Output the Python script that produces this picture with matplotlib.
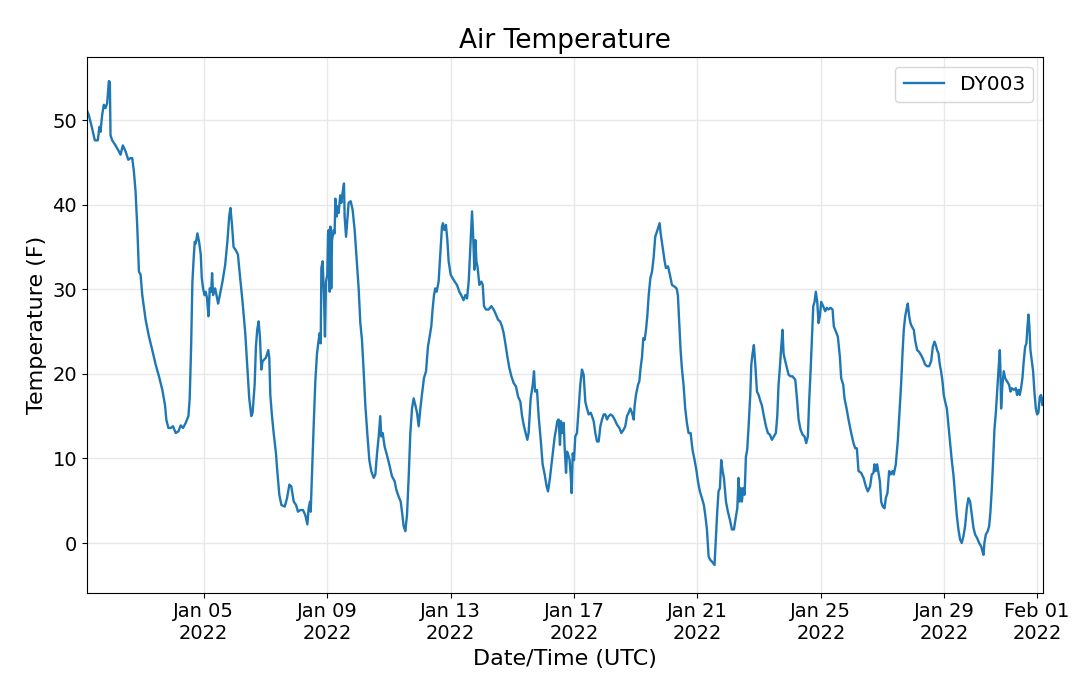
import matplotlib
matplotlib.use("Agg")
import matplotlib.pyplot as plt
import matplotlib.dates as mdates
import pandas as pd

title = "Air Temperature"
series_name = "DY003"
x_label = "Date/Time (UTC)"
y_label = "Temperature (F)"
start = pd.Timestamp("2022-01-01 00:00")
x_range_hours = [5, 749]
y_ticks = [0, 10, 20, 30, 40, 50]

# hours since 2022-01-01 00:00 UTC
hours = [
    5, 6.6, 9.2, 11.3, 13.6, 14.9, 15.7, 17, 18.3, 19.6, 20.9, 22.2, 23, 23.5, 24.8, 27.4, 30, 31.3, 33.1, 35.2,
    37.3, 39.1, 40.4, 41.7, 43, 44.3, 45.6, 46.9, 48.2, 50.8, 53.4, 56, 58.6, 61.2, 63.8, 65.9, 66.9, 68.5, 70.3,
    72.1, 74.2, 76.3, 78.1, 79.9, 82, 84.1, 85.1, 86.2, 87.2, 88.2, 89, 89.8, 91.1, 92.4, 93.7, 94.5, 95.5, 96.6,
    97.6, 98.6, 99.7, 100.7, 101.8, 102.5, 103.3, 104.9, 105.9, 107.2, 108.5, 110.6, 112.7, 114.5, 115.8, 116.8,
    117.9, 119.2, 121, 122.6, 124.1, 126.2, 128.3, 130.1, 131.4, 133, 134, 135.6, 136.6, 137.6, 138.7, 139.7,
    140.8, 141.8, 144.4, 146.2, 147, 147.8, 149.1, 150.4, 152.2,
    153, 154.8, 156.4, 159, 160.8, 162.6, 164.1, 166, 167.8, 169.3, 171.1, 173.2, 175, 176.6, 177.6, 178.7, 179.2,
    180.2, 181.5, 182.8, 184.1, 185.4, 186.2, 187, 187.5, 188.5, 189.5, 190.3, 191.1, 192.1, 192.7, 193.2, 194,
    194.5, 195.2, 195.8, 197.1, 197.8, 198.4, 199.4, 200.2, 200.9, 202.2, 203, 204.1, 205.1, 205.6, 206.7, 207.7,
    208.7, 210.3, 211.8, 213.4, 215.2, 216.5, 217.8, 219.1, 220.4, 221.7, 223.2, 224.8, 226.3, 228.2, 229.5,
    230.8, 232.1, 233.3, 234.1, 235.2, 236.7, 238.5, 240.3, 242.4, 244.5, 245.8, 247.6, 249.2, 250.2, 251.5,
    252.8, 254.1, 255.4, 256.7, 258, 259.3, 260.6, 261.9, 263.2, 264.5, 265.7, 267.3, 268.9, 270.4, 271.7, 273,
    274, 275.1, 276.1, 277.2, 278.7, 280, 281.3, 282.1, 283.1, 284.4, 285.5, 286.5, 288.1, 289.6, 291.2, 293,
    294.8, 296.3, 298.1,
    299.5, 300.8, 302.1, 303.4, 304.7, 305.7, 306.5, 307.3, 308.1, 309.1, 310.4, 311.9, 313, 314, 315.6, 317.6,
    319.7, 321.5, 323.3, 324.9, 326.5, 328, 329.3, 330.6, 332.2, 333.7, 335.3, 337.1, 338.9, 340.5, 342.3, 343.6,
    345.1, 346.7, 347.7, 348.7, 350.3, 351.9, 352.9, 353.7, 355.2, 356.5, 358.1, 359.6, 361.2, 362.7, 363.8,
    365.3, 366.9, 367.9, 369, 370, 371, 372.1, 373.1, 373.9, 374.9, 376, 376.7, 377.8, 378.6, 379.6, 380.6,
    381.4, 382.2, 383, 384, 385, 386.3, 387.6, 388.9, 390.2, 391.5, 392.8, 394.1, 395.4, 397, 398, 399.3, 400.6,
    401.9, 403.2, 404.5, 405.8, 407.1, 408.4, 409.7, 411, 412.5, 414.1, 415.6, 417.4, 419.3, 420.8, 422.6, 423.9,
    425.2, 426.5, 427.8, 429.1, 430.4, 431.2, 432.2, 433.8, 434.8, 435.8, 436.9, 437.9, 438.9, 440, 441, 442.1,
    443.4, 444.7, 445.9, 447.2, 448.5, 449.8, 450.6, 451.4, 452.9,
    454.5, 455.5, 457.1, 458.6, 460.2, 462.2, 463.8, 464.8, 465.9, 466.9, 467.9, 469.2, 470.5, 471.8, 473.1,
    474.7, 476.2, 477.8, 479.3, 480.4, 481.9, 483.5, 485, 486.1, 487.4, 488.7, 490, 491.3, 493.3, 494.4, 495.4,
    496.4, 497.5, 498.5, 499.6, 500.6, 502.2, 503.7, 505.5, 506.8, 508.4, 509.4, 511, 512, 512.8, 513.6, 514.6,
    515.6, 516.7, 517.7, 518.7, 519.8, 521.1, 521.9, 522.9, 523.9, 525, 526.3, 527.6, 529.1, 530.1, 531.7,
    533.3, 534.8, 536.4, 537.9, 539.5, 541, 542.1, 543.1, 544.1, 545.2, 546.2, 547, 548.3, 549.6, 550.9, 552.4,
    554, 556.1, 557.4, 558.7, 560.2, 561.8, 563.3, 564.6, 565.9, 567, 568, 569, 570.1, 571.1, 572.1, 573.2,
    574.2, 575.2, 576.3, 577.8, 579.4, 580.7, 582, 583.5, 585.1, 586.1, 587.7, 589.2, 590.8, 591.8, 593.4,
    594.4, 596, 597.5, 599.6, 601.4, 602.7,
    604, 605.3, 607.3, 609.2, 611, 612.5, 614.3, 615.6, 616.9, 617.7, 618.7, 619.8, 620.8, 621.9, 622.9, 624.2,
    625.5, 626.5, 627.8, 629.1, 630.4, 631.7, 632.7, 634.3, 635.9, 637.1, 638.4, 639.5, 640.5, 641.6, 642.6,
    643.6, 644.7, 645.7, 646.7, 648.3, 649.3, 650.9, 652.4, 654, 655.6, 657.1, 658.7, 660.2, 661.8, 663.1,
    664.4, 665.4, 666.4, 667.5, 668.5, 669.5, 670.6, 671.6, 672.7, 674, 675.3, 676.5, 677.8, 679.1, 680.4,
    681.7, 683, 684.3, 685.6, 686.9, 688.2, 689.5, 690.8, 692.1, 693.4, 694.7, 696, 697.5, 699.1, 700.7, 701.7,
    702.5, 703.2, 704.3, 705.8, 706.9, 707.9, 709, 710, 711, 712.1, 713.1, 714.1, 715.2, 715.7, 716.2, 717.2,
    718.3, 719.3, 720.9, 722.4, 723.5, 724.5, 726.1, 727.6, 728.6, 729.7, 730.7, 731.7, 732.8, 733.8, 734.9,
    735.9, 736.7, 737.5, 738.2, 739, 740.1, 741.1, 742.1, 743.2, 744.2, 745.2, 746.3, 747.3, 748.3, 749,
]

temps_f = [
    51.2, 50.6, 49.0, 47.6, 47.6, 49.2, 48.6, 50.6, 51.8, 51.4, 52.0, 54.6, 54.5, 48.2, 47.6, 47.0, 46.3, 45.9, 47.0, 46.3,
    45.3, 45.5, 45.5, 43.9, 41.5, 37.4, 32.1, 31.7, 29.3, 26.4, 24.4, 22.8, 21.1, 19.7, 18.1, 16.3, 14.6, 13.6, 13.6,
    13.8, 13.0, 13.2, 13.9, 13.6, 14.2, 15.0, 17.1, 23.2, 30.9, 33.7, 35.6, 35.4, 36.6, 35.6, 34.1, 31.3, 30.1, 29.3,
    29.7, 28.9, 26.8, 30.1, 29.7, 31.9, 29.3, 30.1, 29.3, 28.3, 29.3, 30.9, 32.9, 35.8, 38.6, 39.6,
    37.8, 35.0, 34.6, 34.1, 31.7, 28.5, 24.8, 20.3, 17.1, 15.0, 15.4, 18.7, 23.2, 25.2, 26.2, 24.4,
    20.5, 21.5, 21.9, 22.8, 21.9, 17.5, 15.0, 13.0, 10.6,
    8.9, 5.7, 4.5, 4.3, 5.3, 6.9, 6.7, 4.9, 4.5, 3.7, 3.9, 3.9, 3.3, 2.2, 4.1, 4.9, 3.7,
    8.1, 13.8, 19.1, 22.4, 24.0, 24.8, 23.6, 32.5, 33.3, 29.3, 24.4, 30.9, 31.7, 36.6, 37.0, 29.7,
    37.4, 30.1, 35.8, 37.0, 36.6, 40.7, 38.6, 39.8, 39.0, 41.1, 40.2, 41.5, 42.5, 38.6, 36.2, 38.2,
    40.2, 40.4, 39.4, 37.0, 32.9, 30.1, 26.0, 24.0, 20.3, 16.3, 13.0, 9.8, 8.5, 7.7, 8.1,
    10.6, 12.6, 15.0, 12.6, 13.0, 11.4, 10.4, 9.3, 7.9, 7.3, 6.3, 5.5, 4.9, 3.7, 2.0,
    1.4, 3.3, 7.7, 13.0, 15.9, 17.1, 16.3, 15.4, 13.8, 15.9, 17.5, 19.5, 20.3, 23.2, 24.4, 25.6,
    27.6, 29.3, 30.1, 29.7, 30.9, 34.1, 37.4, 37.8, 37.0, 37.6, 35.8, 33.3, 31.7, 31.3, 30.9, 30.5,
    29.7, 29.3, 28.7,
    29.3, 28.9, 30.9, 35.0, 39.2, 35.8, 32.3, 35.8, 33.3, 32.5, 30.5, 30.9, 30.5, 28.0, 27.6, 27.6,
    28.0, 27.6, 27.0, 26.4, 26.2, 25.6, 24.8, 23.6, 22.0, 20.7, 19.7, 18.9, 18.5, 17.3, 16.7, 15.0,
    13.8, 12.8, 12.2, 13.0, 17.1, 18.7, 20.3, 17.9, 18.1, 15.0, 12.2, 9.3, 8.1, 6.7, 6.1,
    7.7, 9.8, 11.0, 12.6, 13.4, 14.4, 14.6, 11.6, 14.4, 13.0, 14.2, 11.4, 8.3, 10.8, 10.4, 9.8,
    8.1, 5.9, 10.6, 9.8, 12.6, 13.0, 15.9, 18.7, 20.5, 19.9, 16.7, 15.9, 15.2, 15.4, 15.0, 14.4, 13.0,
    12.0, 12.0, 13.8, 14.6, 15.2, 15.2, 14.6, 15.0, 15.2, 15.0, 14.6, 14.0, 13.6, 13.0, 13.4, 13.8,
    15.0, 15.4, 15.9, 15.4, 14.6, 16.3, 17.5, 18.7, 19.1, 20.7, 22.0, 24.2, 24.0, 25.2, 26.8, 29.3,
    31.3, 32.1, 33.7, 36.2, 36.8, 37.4, 37.8, 36.6, 35.0,
    33.3, 32.5, 32.7, 31.7, 30.5, 30.3, 30.1, 29.3, 26.0, 22.8, 20.7, 18.7, 15.9, 14.2, 13.0,
    13.0, 11.0, 9.8, 8.5, 7.3, 6.1, 5.3, 4.5, 3.3, 1.6, -1.6, -2.0, -2.2, -2.6, 0.8, 3.7,
    6.1, 6.5, 9.8, 8.5, 7.7, 4.9, 3.7, 2.6, 1.6, 1.6, 2.6, 4.1, 7.7, 4.9, 6.5, 4.9,
    6.5, 5.7, 10.2, 11.0, 13.8, 17.5, 21.1, 22.4, 23.4, 21.1, 17.9, 17.5, 16.7, 16.3, 15.0,
    13.8, 13.0, 12.8, 12.2, 12.6, 13.0, 15.0, 18.7, 20.7, 23.2, 25.2, 22.4, 21.5, 20.7, 19.9, 19.7,
    19.7, 19.3, 17.1, 14.6, 13.4, 12.8, 12.6, 11.8, 12.6, 17.1, 20.3, 24.0, 28.0, 28.5, 29.7, 28.5,
    26.0, 26.8, 28.5, 28.0, 27.4, 27.8, 27.6, 27.8, 27.6, 25.6, 25.0, 24.4, 22.0, 19.5, 18.7,
    17.1, 15.9, 14.6, 13.0, 11.8, 11.2,
    11.2, 8.5, 8.3, 7.7, 6.7, 6.1, 6.7, 8.1, 8.3, 9.3, 8.5, 9.3, 8.3, 7.3, 4.9, 4.3,
    4.1, 5.3, 5.9, 8.5, 8.1, 8.5, 8.1, 9.3, 12.2, 15.4, 18.7, 22.4, 25.2, 26.8, 27.6,
    28.3, 26.8, 26.0, 25.6, 25.2, 24.0, 22.8, 22.6, 22.2, 21.7, 21.1, 20.9, 20.9, 21.5, 23.2,
    23.8, 23.4, 22.8, 22.4, 21.1, 20.3, 19.1, 17.5, 16.7, 15.9, 13.8, 11.8, 9.8, 8.1, 5.7,
    3.3, 1.6, 0.4, 0.0, 0.8, 2.0, 4.1, 5.3, 4.9, 3.3, 1.8, 1.0, 0.6, 0.0, -0.4, -1.0,
    -1.4, 0.0, 1.0, 1.4, 2.0, 3.7, 6.5, 9.8, 13.4, 15.4, 17.9, 20.3, 22.8, 20.3, 15.9, 18.7,
    20.3, 19.5, 19.1, 18.7, 17.9, 18.3, 18.1, 18.3, 17.5, 18.1, 17.5, 18.3, 19.5, 21.5, 23.2,
    23.6, 25.6, 27.0, 25.6, 22.8, 21.5, 20.3, 17.9, 15.9, 15.2, 15.4, 17.3, 17.5, 16.3, 17.1,
]

times = start + pd.to_timedelta(hours, unit="h")

fig = plt.figure(figsize=(10.8, 6.81), dpi=100)
ax = fig.add_axes([0.0803, 0.1297, 0.8857, 0.787])

ax.plot(times, temps_f, color="#1f77b4", linewidth=1.7, label=series_name)

ax.set_xlim(start + pd.Timedelta(hours=x_range_hours[0]), start + pd.Timedelta(hours=x_range_hours[1]))
ax.set_ylim(-5.87, 57.48)
ax.set_yticks(y_ticks)

ax.xaxis.set_major_locator(mdates.DayLocator(bymonthday=[1, 5, 9, 13, 17, 21, 25, 29]))
ax.xaxis.set_major_formatter(mdates.DateFormatter("%b %d\n%Y"))

ax.grid(True, color="#e8e8e8", linewidth=1.0)
ax.set_axisbelow(True)

ax.tick_params(axis="both", labelsize=14)
ax.set_title(title, fontsize=19)
ax.set_xlabel(x_label, fontsize=16)
ax.set_ylabel(y_label, fontsize=16)
ax.legend(loc="upper right", fontsize=14.5)

fig.savefig("out.png", dpi=100)
